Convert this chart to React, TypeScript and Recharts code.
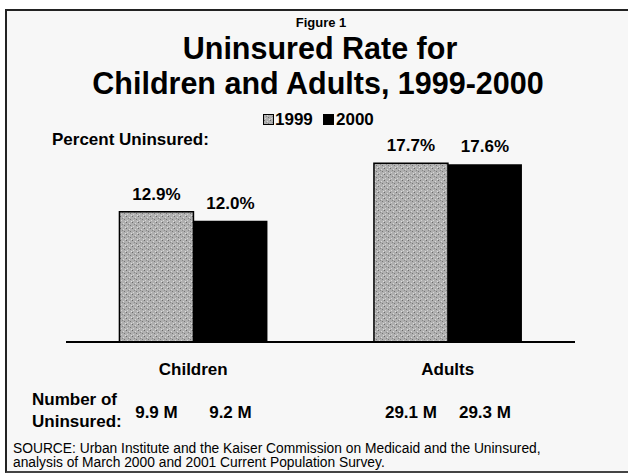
import React from 'react';
import { BarChart, Bar, XAxis, YAxis, LabelList } from 'recharts';

const groups = ['Children', 'Adults'];
const years = ['1999', '2000'];
const rate1999 = [12.9, 17.7];
const rate2000 = [12.0, 17.6];
const count1999 = ['9.9 M', '29.1 M'];
const count2000 = ['9.2 M', '29.3 M'];

const data = groups.map((g, i) => ({
    group: g,
    y1999: rate1999[i],
    y2000: rate2000[i],
    n1999: count1999[i],
    n2000: count2000[i],
}));

const FONT = '"Liberation Sans", Arial, sans-serif';

const Stipple: React.FC<{ id: string }> = ({ id }) => (
    <pattern id={id} width="6" height="6" patternUnits="userSpaceOnUse">
        <rect width="6" height="6" fill="#b0b0b0" />
        <rect x="0" y="0" width="1" height="1" fill="#6a6a6a" />
        <rect x="3" y="1" width="1" height="1" fill="#d8d8d8" />
        <rect x="4" y="3" width="1" height="1" fill="#767676" />
        <rect x="1" y="4" width="1" height="1" fill="#d4d4d4" />
        <rect x="2" y="2" width="1" height="1" fill="#888" />
        <rect x="5" y="5" width="1" height="1" fill="#dedede" />
    </pattern>
);

const GroupTick = (props: any) => {
    const { x, y, payload } = props;
    return (
        <text x={x} y={y} dy={25} textAnchor="middle" fontFamily={FONT} fontWeight="bold" fontSize={17} fill="#000">
            {payload.value}
        </text>
    );
};

// количество незастрахованных под каждым столбцом
const CountLabel = (props: any) => {
    const { x, y, width, height, value } = props;
    return (
        <text x={x + width / 2} y={y + height + 76} textAnchor="middle" fontFamily={FONT} fontWeight="bold" fontSize={17} fill="#000">
            {value}
        </text>
    );
};

const pct = (v: any) => `${Number(v).toFixed(1)}%`;

export default function App() {
    return (
        <div style={{ position: 'absolute', left: 0, top: 0, width: 628, height: 475, background: '#fff' }}>
            <div
                style={{
                    position: 'absolute', left: 5, top: 9, width: 630, height: 460,
                    borderLeft: '2px solid #222', borderTop: '2px solid #222', borderBottom: '2px solid #444',
                    background: '#f7f7f7',
                }}
            />
            <div style={{ position: 'absolute', left: 0, top: 0 }}>
                <BarChart
                    width={628}
                    height={475}
                    data={data}
                    margin={{ top: 140, right: 53, bottom: 103, left: 66 }}
                    barGap={0}
                    barCategoryGap="21%"
                >
                    <defs>
                        <Stipple id="stipple" />
                    </defs>
                    <YAxis hide domain={[0, 20]} />
                    <XAxis
                        dataKey="group"
                        height={30}
                        axisLine={{ stroke: '#000', strokeWidth: 2 }}
                        tickLine={false}
                        tick={<GroupTick />}
                    />
                    <Bar dataKey="y1999" fill="url(#stipple)" stroke="#000" strokeWidth={1.5} isAnimationActive={false}>
                        <LabelList dataKey="y1999" position="top" offset={12} formatter={pct}
                            style={{ fontFamily: FONT, fontWeight: 'bold', fontSize: 17, fill: '#000' }} />
                        <LabelList dataKey="n1999" content={<CountLabel />} />
                    </Bar>
                    <Bar dataKey="y2000" fill="#000" isAnimationActive={false}>
                        <LabelList dataKey="y2000" position="top" offset={12} formatter={pct}
                            style={{ fontFamily: FONT, fontWeight: 'bold', fontSize: 17, fill: '#000' }} />
                        <LabelList dataKey="n2000" content={<CountLabel />} />
                    </Bar>
                </BarChart>
            </div>
            <svg width={628} height={475} style={{ position: 'absolute', left: 0, top: 0, pointerEvents: 'none' }}>
                <defs>
                    <Stipple id="stippleLegend" />
                </defs>
                <g fontFamily={FONT} fontWeight="bold" fill="#000">
                    <text x={321} y={27} textAnchor="middle" fontSize={13}>Figure 1</text>
                    <text x={320} y={59} textAnchor="middle" fontSize={30.5}>Uninsured Rate for</text>
                    <text x={318} y={94} textAnchor="middle" fontSize={30.5}>Children and Adults, 1999-2000</text>
                    <text x={52} y={145} fontSize={17}>Percent Uninsured:</text>
                    <text x={32} y={405} fontSize={17}>Number of</text>
                    <text x={32} y={427} fontSize={17}>Uninsured:</text>
                </g>
                {/* легенда */}
                <g fontFamily={FONT} fontWeight="bold" fontSize={17} fill="#000">
                    <rect x={263.5} y={114.5} width={10} height={10} fill="url(#stippleLegend)" stroke="#000" strokeWidth={1} />
                    <text x={275} y={125}>{years[0]}</text>
                    <rect x={323} y={114} width={11} height={11} fill="#000" />
                    <text x={336} y={125}>{years[1]}</text>
                </g>
                <g fontFamily={FONT} fontSize={13.8} fill="#000">
                    <text x={13} y={453}>SOURCE: Urban Institute and the Kaiser Commission on Medicaid and the Uninsured,</text>
                    <text x={13} y={467}>analysis of March 2000 and 2001 Current Population Survey.</text>
                </g>
            </svg>
        </div>
    );
}
